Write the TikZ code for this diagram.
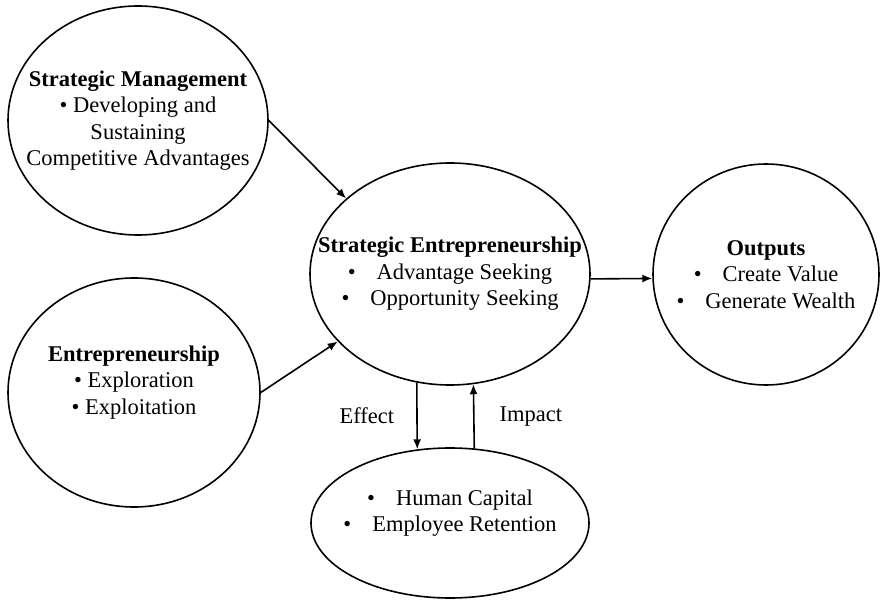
\documentclass[tikz,border=0pt]{standalone}
\usepackage{fontspec}
\setmainfont{Liberation Serif}
\usetikzlibrary{arrows.meta,shapes.geometric,positioning}

\tikzset{
  blob/.style={draw, ellipse, line width=1.6pt, inner sep=0pt},
  txt/.style={align=center, font=\fontsize{22.5}{26.5}\selectfont, inner sep=0pt},
  flow/.style={line width=1.6pt, -{Latex[length=10pt,width=8pt]}}
}

\begin{document}
\begin{tikzpicture}[x=1pt,y=-1pt]
\useasboundingbox (0,0) rectangle (881,601);

% the five ellipses
\node[blob, minimum width=260pt, minimum height=229pt] (sm) at (138,120.5) {};
\node[blob, minimum width=252pt, minimum height=229pt] (entr) at (134,392.5) {};
\node[blob, minimum width=280pt, minimum height=222pt] (se) at (450,274) {};
\node[blob, minimum width=226pt, minimum height=221pt] (out) at (766,274.5) {};
\node[blob, minimum width=278pt, minimum height=150pt] (hc) at (450,523) {};

% their texts
\node[txt] (sm-txt) at (sm) {\textbf{Strategic Management}\\\textbullet\ Developing and\\Sustaining\\Competitive Advantages};
\node[txt] (entr-txt) at ([yshift=10pt]entr.center) {\textbf{Entrepreneurship}\\\textbullet\ Exploration\\\textbullet\ Exploitation};
\node[txt] (se-txt) at (se) {\textbf{Strategic Entrepreneurship}\\\textbullet\hspace{21pt}Advantage Seeking\\\textbullet\hspace{21pt}Opportunity Seeking};
\node[txt] (out-txt) at (out) {\textbf{Outputs}\\\textbullet\hspace{21pt}Create Value\\\textbullet\hspace{21pt}Generate Wealth};
\node[txt] (hc-txt) at ([yshift=10pt]hc.center) {\textbullet\hspace{21pt}Human Capital\\\textbullet\hspace{21pt}Employee Retention};

% connectors
\draw[flow] (sm.0) -- (se.144);
\draw[flow] (entr.0) -- (se.211);
\draw[flow] (se.358.4) -- (out.182);
\draw[flow] (se.253) -- node[txt, left=22pt] (effect) {Effect} (hc.114.4);
\draw[flow] (hc.72) -- node[txt, right=25pt] (impact) {Impact} (se.282.4);
\end{tikzpicture}
\end{document}
